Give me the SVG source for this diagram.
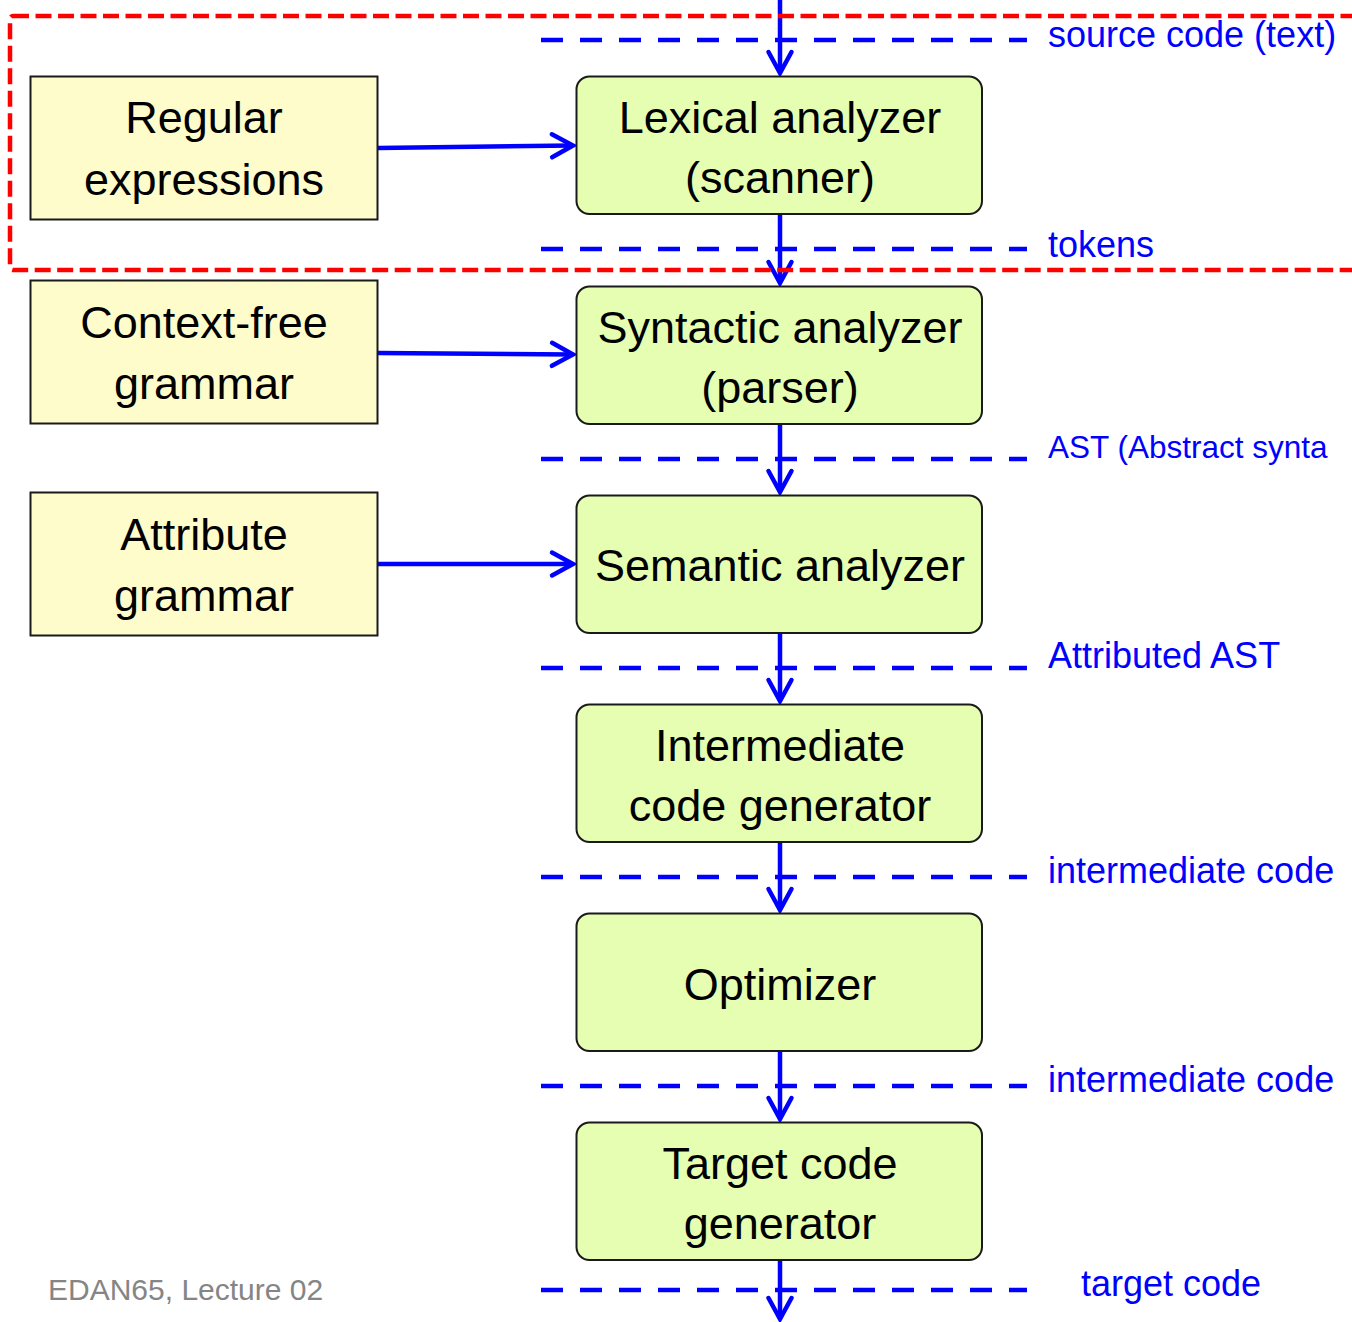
<svg xmlns="http://www.w3.org/2000/svg" width="1352" height="1322" viewBox="0 0 1352 1322">
<style>
.bg{fill:#ffffff}
.stage rect{fill:#e5feb2;stroke:#1a1a1a;stroke-width:2}
.spec rect{fill:#fefccb;stroke:#1a1a1a;stroke-width:2}
.nt{font-family:"Liberation Sans",Arial,sans-serif;font-size:45px;fill:#000;text-anchor:middle}
.lbl{font-family:"Liberation Sans",Arial,sans-serif;font-size:36px;fill:#0000ff}
.foot{font-family:"Liberation Sans",Arial,sans-serif;font-size:30px;fill:#858585}
.flow{stroke:#0000ff;stroke-width:4.5;fill:none;marker-end:url(#arr)}
.sep{stroke:#0000ff;stroke-width:4.5;stroke-dasharray:22 17;fill:none}
.scope{stroke:#ff0000;stroke-width:4.5;stroke-dasharray:16 6.5;fill:none}
</style>
<defs>
<marker id="arr" markerUnits="userSpaceOnUse" markerWidth="40" markerHeight="40" refX="0" refY="0" orient="auto" overflow="visible">
<path d="M -21 -11.5 L 0 0 L -21 11.5" fill="none" stroke="#0000ff" stroke-width="4.5" stroke-linecap="round" stroke-linejoin="miter"/>
</marker>
</defs>
<rect class="bg" x="0" y="0" width="1352" height="1322"/>

<g id="separators">
<line class="sep" x1="541" y1="40" x2="1027" y2="40"/>
<line class="sep" x1="541" y1="249" x2="1027" y2="249"/>
<line class="sep" x1="541" y1="459" x2="1027" y2="459"/>
<line class="sep" x1="541" y1="668" x2="1027" y2="668"/>
<line class="sep" x1="541" y1="877" x2="1027" y2="877"/>
<line class="sep" x1="541" y1="1086" x2="1027" y2="1086"/>
<line class="sep" x1="541" y1="1290" x2="1027" y2="1290"/>
</g>

<g id="connectors">
<line class="flow" x1="780" y1="0" x2="780" y2="73"/>
<line class="flow" x1="780" y1="214" x2="780" y2="283"/>
<line class="flow" x1="780" y1="424" x2="780" y2="492"/>
<line class="flow" x1="780" y1="633" x2="780" y2="701"/>
<line class="flow" x1="780" y1="842" x2="780" y2="910"/>
<line class="flow" x1="780" y1="1051" x2="780" y2="1119"/>
<line class="flow" x1="780" y1="1260" x2="780" y2="1319"/>
<line class="flow" x1="378" y1="148" x2="573" y2="145.5"/>
<line class="flow" x1="378" y1="353" x2="573" y2="354.5"/>
<line class="flow" x1="378" y1="564" x2="573" y2="564"/>
</g>

<g id="lexical" class="stage">
<rect x="576.5" y="76.5" width="405.5" height="137.5" rx="13"/>
<text class="nt" x="780" y="133">Lexical analyzer</text>
<text class="nt" x="780" y="193">(scanner)</text>
</g>
<g id="syntactic" class="stage">
<rect x="576.5" y="286.5" width="405.5" height="137.5" rx="13"/>
<text class="nt" x="780" y="343">Syntactic analyzer</text>
<text class="nt" x="780" y="403">(parser)</text>
</g>
<g id="semantic" class="stage">
<rect x="576.5" y="495.5" width="405.5" height="137.5" rx="13"/>
<text class="nt" x="780" y="581">Semantic analyzer</text>
</g>
<g id="intermediate" class="stage">
<rect x="576.5" y="704.5" width="405.5" height="137.5" rx="13"/>
<text class="nt" x="780" y="761">Intermediate</text>
<text class="nt" x="780" y="821">code generator</text>
</g>
<g id="optimizer" class="stage">
<rect x="576.5" y="913.5" width="405.5" height="137.5" rx="13"/>
<text class="nt" x="780" y="1000">Optimizer</text>
</g>
<g id="target" class="stage">
<rect x="576.5" y="1122.5" width="405.5" height="137.5" rx="13"/>
<text class="nt" x="780" y="1179">Target code</text>
<text class="nt" x="780" y="1239">generator</text>
</g>

<g id="regex" class="spec">
<rect x="30.5" y="76.5" width="347" height="143"/>
<text class="nt" x="204" y="133">Regular</text>
<text class="nt" x="204" y="195">expressions</text>
</g>
<g id="cfg" class="spec">
<rect x="30.5" y="280.5" width="347" height="143"/>
<text class="nt" x="204" y="338">Context-free</text>
<text class="nt" x="204" y="399">grammar</text>
</g>
<g id="attrgrammar" class="spec">
<rect x="30.5" y="492.5" width="347" height="143"/>
<text class="nt" x="204" y="550">Attribute</text>
<text class="nt" x="204" y="611">grammar</text>
</g>

<g id="labels">
<text class="lbl" x="1048" y="47">source code (text)</text>
<text class="lbl" x="1048" y="257">tokens</text>
<text class="lbl" x="1048" y="458" style="font-size:31.5px">AST (Abstract synta</text>
<text class="lbl" x="1048" y="668">Attributed AST</text>
<text class="lbl" x="1048" y="883">intermediate code</text>
<text class="lbl" x="1048" y="1092">intermediate code</text>
<text class="lbl" x="1081" y="1296">target code</text>
</g>

<g id="scope">
<rect class="scope" x="10" y="16" width="1370" height="254" rx="3"/>
</g>

<text class="foot" x="48" y="1300">EDAN65, Lecture 02</text>
</svg>
